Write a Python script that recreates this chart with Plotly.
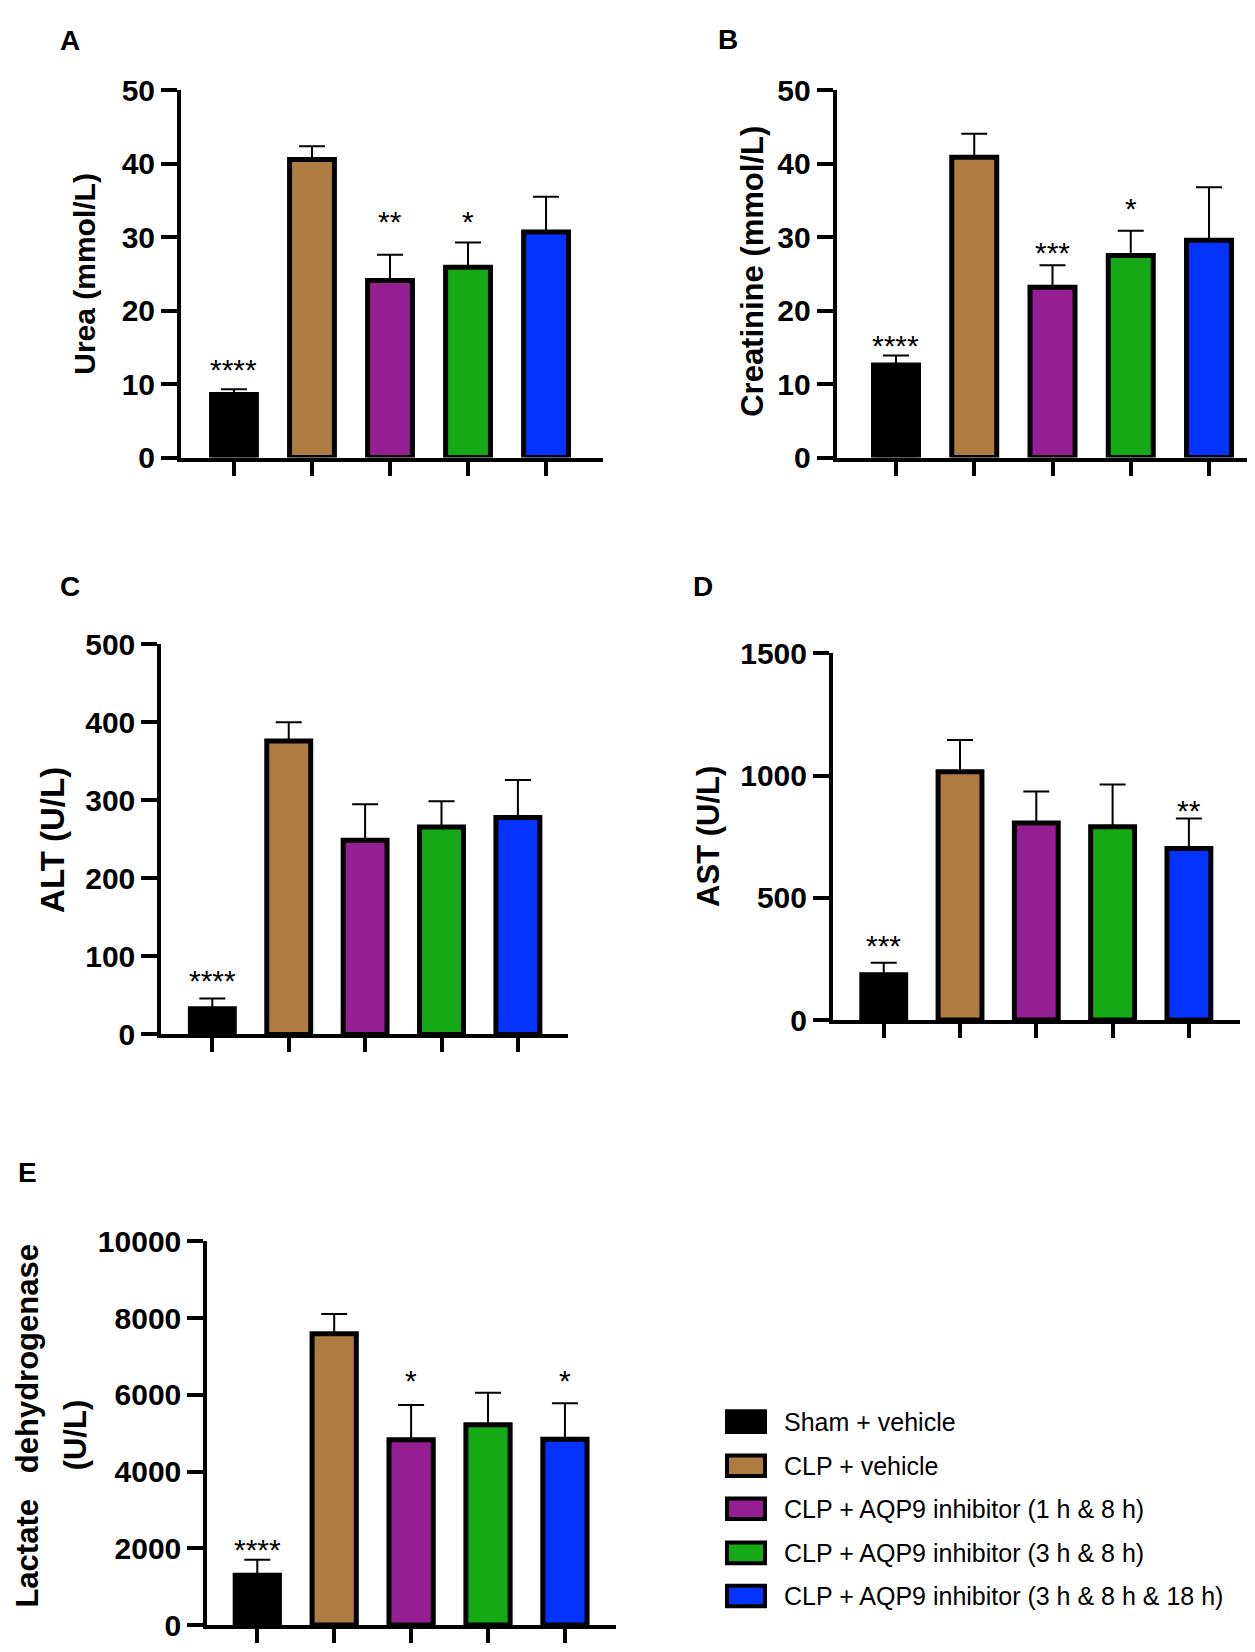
import plotly.graph_objects as go

W, H = 1255, 1652

categories = [
    "Sham + vehicle",
    "CLP + vehicle",
    "CLP + AQP9 inhibitor (1 h & 8 h)",
    "CLP + AQP9 inhibitor (3 h & 8 h)",
    "CLP + AQP9 inhibitor (3 h & 8 h & 18 h)",
]
bar_colors = ["#000000", "#AE7B41", "#951F92", "#15A915", "#0433FF"]

# Panel A - Urea
urea_mean = [8.6, 40.6, 24.1, 25.9, 30.7]
urea_err = [0.7, 1.8, 3.5, 3.4, 4.8]
urea_stars = ["****", "", "**", "*", ""]
urea_star_y = [13.1, 0, 33.2, 33.2, 0]

# Panel B - Creatinine
creat_mean = [12.6, 40.9, 23.2, 27.5, 29.6]
creat_err = [1.3, 3.2, 3.0, 3.4, 7.2]
creat_stars = ["****", "", "***", "*", ""]
creat_star_y = [16.3, 0, 29.0, 35.0, 0]

# Panel C - ALT
alt_mean = [33, 376, 249, 266, 278]
alt_err = [13, 24, 46, 33, 48]
alt_stars = ["****", "", "", "", ""]
alt_star_y = [79.5, 0, 0, 0, 0]

# Panel D - AST
ast_mean = [185, 1016, 806, 791, 702]
ast_err = [50, 130, 129, 173, 123]
ast_stars = ["***", "", "", "", "**"]
ast_star_y = [338, 0, 0, 0, 892]

# Panel E - LDH
ldh_mean = [1296, 7594, 4828, 5224, 4846]
ldh_err = [404, 514, 911, 830, 938]
ldh_stars = ["****", "", "*", "", "*"]
ldh_star_y = [2190, 0, 6577, 0, 6577]

FONT = "Liberation Sans, Arial, Helvetica, sans-serif"


def px_x(v):
    return v / W


def px_y(v):
    return 1 - v / H


panels = [
    dict(mean=urea_mean, err=urea_err, stars=urea_stars, sy=urea_star_y,
         xd=(173, 595), yd=(66.7, 441.7), xr=(-0.679, 4.73), yr=(0, 50),
         tv=[0, 10, 20, 30, 40, 50], title="Urea (mmol/L)", tpos=(77, 254), tsize=30,
         letter="A", lpos=(62, 16)),
    dict(mean=creat_mean, err=creat_err, stars=creat_stars, sy=creat_star_y,
         xd=(828.6, 1255), yd=(66.7, 441.7), xr=(-0.759, 4.69), yr=(0, 50),
         tv=[0, 10, 20, 30, 40, 50], title="Creatinine (mmol/L)", tpos=(745, 252), tsize=31,
         letter="B", lpos=(720, 15)),
    dict(mean=alt_mean, err=alt_err, stars=alt_stars, sy=alt_star_y,
         xd=(153.3, 560), yd=(632.3, 1030.7), xr=(-0.668, 4.656), yr=(0, 500),
         tv=[0, 100, 200, 300, 400, 500], title="ALT (U/L)", tpos=(45, 832), tsize=33,
         letter="C", lpos=(62, 573)),
    dict(mean=ast_mean, err=ast_err, stars=ast_stars, sy=ast_star_y,
         xd=(825, 1232), yd=(641.7, 1016), xr=(-0.665, 4.67), yr=(0, 1500),
         tv=[0, 500, 1000, 1500], title="AST (U/L)", tpos=(701, 829), tsize=31,
         letter="D", lpos=(695, 573)),
    dict(mean=ldh_mean, err=ldh_err, stars=ldh_stars, sy=ldh_star_y,
         xd=(199.3, 608), yd=(1242, 1633.7), xr=(-0.65, 4.664), yr=(0, 10000),
         tv=[0, 2000, 4000, 6000, 8000, 10000], title=None, tpos=None, tsize=None,
         letter="E", lpos=(19, 1172)),
]

fig = go.Figure()
annotations = []
shapes = []
layout_axes = {}

for i, p in enumerate(panels, start=1):
    xa = "x" if i == 1 else f"x{i}"
    ya = "y" if i == 1 else f"y{i}"
    fig.add_trace(go.Bar(
        x=categories, y=p["mean"], xaxis=xa, yaxis=ya,
        width=0.575,
        marker=dict(color=bar_colors, line=dict(color="black", width=5)),
        error_y=dict(type="data", array=p["err"], arrayminus=[0] * 5,
                     symmetric=False, color="black", thickness=2, width=13),
        showlegend=False, hoverinfo="skip",
    ))
    xkey = "xaxis" if i == 1 else f"xaxis{i}"
    ykey = "yaxis" if i == 1 else f"yaxis{i}"
    layout_axes[xkey] = dict(
        domain=[px_x(p["xd"][0]), px_x(p["xd"][1])],
        anchor=ya, range=list(p["xr"]), type="category",
        categoryorder="array", categoryarray=categories,
        showline=True, linecolor="black", linewidth=4,
        ticks="outside", ticklen=14, tickwidth=4, tickcolor="black",
        showticklabels=False, showgrid=False, zeroline=False, fixedrange=True,
    )
    layout_axes[ykey] = dict(
        domain=[px_y(p["yd"][1]), px_y(p["yd"][0])],
        anchor=xa, range=list(p["yr"]),
        tickvals=p["tv"], ticktext=[str(v) for v in p["tv"]],
        showline=True, linecolor="black", linewidth=4,
        ticks="outside", ticklen=16, tickwidth=4, tickcolor="black",
        tickfont=dict(family=FONT, size=30, color="black", weight="bold"),
        showgrid=False, zeroline=False, fixedrange=True,
    )
    for cat, s, yv in zip(categories, p["stars"], p["sy"]):
        if s:
            annotations.append(dict(
                x=cat, y=yv, xref=xa, yref=ya, text=s, showarrow=False,
                xanchor="center", yanchor="middle", yshift=-8,
                font=dict(family=FONT, size=30, color="black"),
            ))
    if p["title"]:
        annotations.append(dict(
            x=px_x(p["tpos"][0]), y=px_y(p["tpos"][1]), xref="paper", yref="paper",
            text=p["title"], textangle=-90, showarrow=False,
            xanchor="center", yanchor="middle",
            font=dict(family=FONT, size=p["tsize"], color="black", weight="bold"),
        ))
    annotations.append(dict(
        x=px_x(p["lpos"][0]), y=px_y(p["lpos"][1]), xref="paper", yref="paper",
        text=p["letter"], showarrow=False, xanchor="center", yanchor="middle",
        font=dict(family=FONT, size=28, color="black", weight="bold"),
    ))

# Panel E two-line axis title
annotations.append(dict(
    x=px_x(20), y=px_y(1430), xref="paper", yref="paper",
    text="Lactate\u00a0\u00a0\u00a0dehydrogenase", textangle=-90, showarrow=False,
    xanchor="center", yanchor="middle",
    font=dict(family=FONT, size=31, color="black", weight="bold"),
))
annotations.append(dict(
    x=px_x(67), y=px_y(1440), xref="paper", yref="paper",
    text="(U/L)", textangle=-90, showarrow=False,
    xanchor="center", yanchor="middle",
    font=dict(family=FONT, size=31, color="black", weight="bold"),
))

# Legend (manual)
legend_rows = [1426, 1471, 1515, 1560, 1604]
for cat, col, ry in zip(categories, bar_colors, legend_rows):
    shapes.append(dict(
        type="rect", xref="paper", yref="paper",
        x0=px_x(719), x1=px_x(757), y0=px_y(ry + 10.5), y1=px_y(ry - 10.5),
        fillcolor=col, line=dict(color="black", width=4),
    ))
    annotations.append(dict(
        x=px_x(774), y=px_y(ry), xref="paper", yref="paper",
        text=cat, showarrow=False, xanchor="left", yanchor="middle",
        font=dict(family=FONT, size=25, color="black"),
    ))

fig.update_layout(
    width=W, height=H,
    margin=dict(l=0, r=0, t=0, b=0),
    paper_bgcolor="white", plot_bgcolor="white",
    annotations=annotations, shapes=shapes,
    showlegend=False,
    **layout_axes,
)

fig.write_html("out.html", config={"displayModeBar": False})
